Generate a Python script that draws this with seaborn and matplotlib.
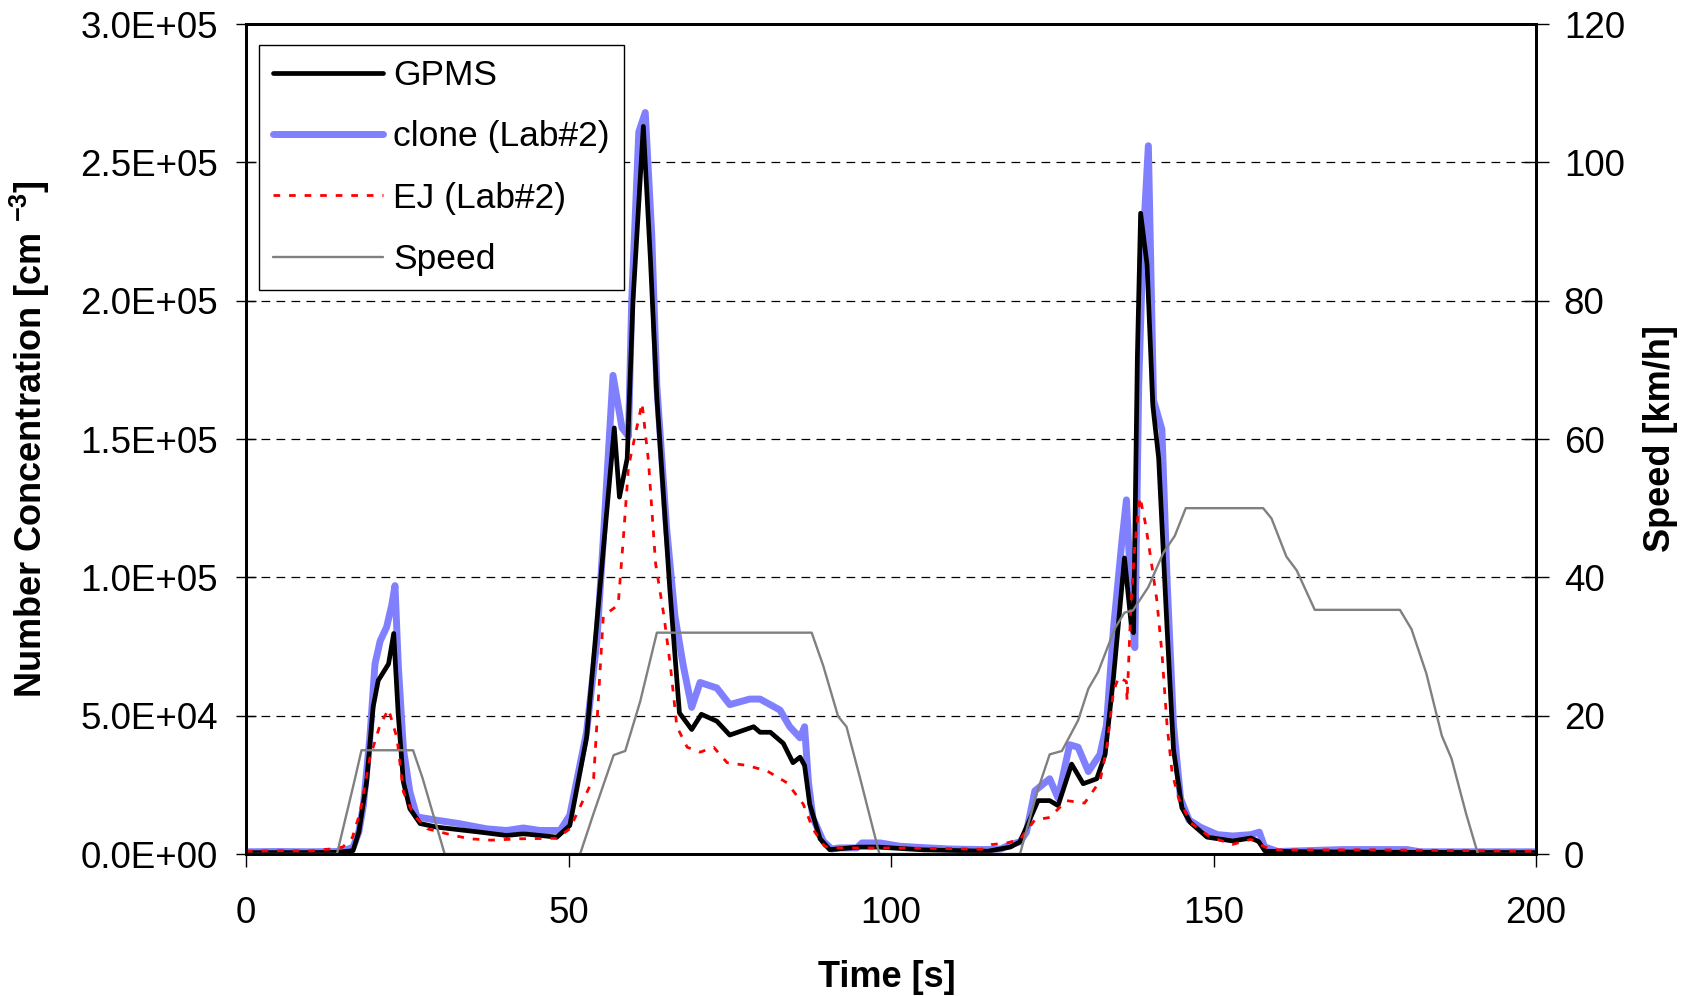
import numpy as np
import pandas as pd
import matplotlib
matplotlib.use('Agg')
import matplotlib.pyplot as plt
from matplotlib.ticker import FuncFormatter, MultipleLocator
from matplotlib.lines import Line2D
import seaborn as sns

# ---------------- data ----------------
clone_t = [0, 5, 10, 14, 15.5, 16.6, 17.5, 18.2, 19.2, 20.0, 20.8, 21.8, 22.6, 23.1, 23.6, 24.4,
           25.4, 26.5, 29.6, 33, 37.3, 40.4, 43.0, 45.6, 48.7, 50.2, 52.8, 54.4, 55.4, 56.9, 58.3,
           59.3, 59.8, 60.9, 61.9, 62.9, 63.7, 65.2, 66.5, 67.8, 69.1, 70.4, 73.0, 75.0, 78.1, 79.7,
           82.8, 84.3, 85.9, 86.6, 87.2, 87.9, 89.5, 90.8, 92, 94.7, 95.5, 98.3, 101.4, 105, 109.2,
           114.4, 117, 118.5, 120.0, 121.0, 122.3, 124.6, 125.9, 127.7, 129.0, 130.6, 132.4, 133.4,
           134.5, 135.8, 136.5, 137.3, 137.8, 138.4, 139.1, 139.9, 140.7, 142.0, 142.8, 143.8, 144.9,
           146.2, 148.0, 150.6, 153, 155.8, 157.1, 157.9, 160, 170, 180, 182, 190, 200]
clone_c = [800, 900, 800, 900, 1500, 2400, 8000, 17600, 42000, 68700, 77000, 82000, 90000, 97000,
           68700, 38000, 22500, 13400, 12200, 11000, 9100, 8500, 9400, 8500, 8500, 14000, 44000,
           77000, 114000, 173000, 154000, 151000, 200000, 261000, 268000, 224000, 169000, 118000,
           86000, 68000, 53000, 62000, 60000, 54000, 56000, 56000, 52000, 46000, 42000, 46000, 26000,
           13000, 4600, 1800, 2200, 2200, 4000, 4000, 2800, 2300, 1800, 1600, 1800, 3400, 4400, 7900,
           22800, 27200, 20200, 39500, 38600, 29800, 36000, 46500, 81600, 113000, 128000, 90000,
           74600, 169000, 222000, 256000, 164000, 153500, 99000, 46500, 20000, 12300, 9650, 7000,
           6500, 7000, 7900, 2600, 900, 1600, 1600, 800, 800, 800]

gpms_t = [0, 10, 14, 16.6, 17.5, 18.7, 19.7, 20.5, 22.1, 22.9, 23.6, 24.4, 25.4, 27.0, 29.6, 36.3,
          40.4, 43.0, 48.2, 50.2, 52.8, 55.4, 57.1, 57.9, 59.1, 60.0, 61.6, 62.7, 63.7, 65.7, 67.2,
          69.1, 70.6, 73.0, 75.0, 78.7, 79.7, 81.3, 83.3, 84.8, 85.9, 86.6, 87.4, 89.0, 90.5, 95, 98,
          105, 115, 118.5, 120.0, 122.8, 124.6, 125.9, 128.0, 129.8, 131.9, 133.2, 134.5, 136.2,
          137.3, 137.6, 138.2, 138.7, 139.7, 140.6, 141.5, 142.8, 143.8, 145.1, 146.4, 149.0, 153,
          155.8, 157.0, 158.0, 165, 180, 200]
gpms_c = [500, 500, 600, 1200, 8000, 26000, 53000, 62700, 68700, 79700, 50500, 26000, 16400, 11000,
          9700, 7900, 6700, 7300, 6100, 10300, 42000, 110000, 154000, 129000, 143000, 200000, 263000,
          215000, 165000, 96000, 51000, 45000, 50500, 48000, 43000, 46000, 44000, 44000, 40000,
          33000, 35000, 32000, 18000, 5500, 1570, 2500, 2500, 1500, 1000, 2500, 4400, 19300, 19300,
          17500, 32500, 25400, 27200, 36000, 64000, 107000, 81600, 80000, 180000, 231600, 213000,
          162000, 143000, 81600, 37700, 16700, 11400, 6100, 4700, 5800, 4500, 1000, 800, 600, 500]

ej_t = [0, 5, 10, 13, 15, 16.5, 17.7, 19.2, 20.8, 22.1, 23.4, 24.4, 26.0, 28.1, 32.2, 34.7, 38,
        42.5, 48.2, 50.2, 53.9, 55.4, 57.7, 58.5, 59.3, 61.4, 62.4, 63.5, 64.8, 65.8, 66.8, 68.4,
        70.4, 72.5, 74.6, 77.7, 80.8, 83.9, 86.4, 87.9, 89.7, 91, 100, 108, 114, 115.6, 118, 120,
        122.3, 124.6, 127.2, 130, 132.4, 133.4, 134.5, 135.3, 136.5, 136.6, 137.2, 137.8, 138.6,
        139.4, 140.1, 141.2, 142.0, 142.8, 143.6, 144.6, 146.4, 149.5, 153, 155.8, 157.9, 160, 175,
        200]
ej_c = [1000, 1200, 1100, 1800, 2500, 6000, 15200, 34700, 46800, 52300, 42000, 22500, 14000, 9100,
        6700, 5500, 5000, 5500, 5700, 9100, 27500, 86000, 90000, 114000, 140000, 163000, 142000,
        105000, 86000, 68000, 46000, 38600, 36800, 38600, 33000, 32000, 30000, 25700, 18000, 9000,
        2800, 2200, 2200, 2000, 1700, 3400, 4000, 5300, 12300, 13200, 19300, 18400, 26300, 37700,
        58800, 64000, 62300, 55300, 90000, 111400, 129000, 120000, 109600, 92000, 72800, 46500,
        29000, 20200, 11400, 6100, 3500, 5300, 2600, 1500, 1500, 1000]

speed_t = [0, 14.1, 16.9, 17.9, 25.9, 27.4, 30.8, 51.8, 53.9, 57.0, 58.8, 61.1, 63.7, 87.7, 89.5,
           91.8, 93.1, 95.2, 98.2, 120.0, 122.6, 124.6, 126.5, 129.0, 130.6, 132.1, 134.7, 136.2,
           137.5, 139.9, 142.2, 144.0, 145.7, 157.7, 159.0, 161.3, 162.9, 165.7, 178.9, 180.7,
           183.0, 185.4, 186.9, 189.2, 191.0, 200]
speed_v = [0, 0, 10.9, 15, 15, 10.9, 0, 0, 5.9, 14.3, 14.9, 22, 32, 32, 27.2, 19.9, 18.4, 11.0, 0,
           0, 8.8, 14.4, 14.9, 19.3, 23.9, 26.3, 32.6, 34.9, 35.2, 38.6, 43.5, 46, 50, 50, 48.5, 43,
           41, 35.3, 35.3, 32.5, 26.1, 17.1, 13.8, 5.7, 0, 0]

series_labels = ["GPMS", "clone (Lab#2)", "EJ (Lab#2)", "Speed"]
x_label = "Time [s]"
y_label = "Number Concentration [cm $^{\\mathbf{-3}}$]"
y2_label = "Speed [km/h]"

# ---------------- styling ----------------
sns.set_theme(style='white')
plt.rcParams['font.family'] = ['Liberation Sans', 'DejaVu Sans']
plt.rcParams['mathtext.fontset'] = 'custom'
plt.rcParams['mathtext.rm'] = 'Liberation Sans'
plt.rcParams['mathtext.bf'] = 'Liberation Sans:bold'
plt.rcParams['text.color'] = 'black'
plt.rcParams['axes.labelcolor'] = 'black'
plt.rcParams['xtick.color'] = 'black'
plt.rcParams['ytick.color'] = 'black'

C_BLUE = '#8080FF'
C_RED = '#FF0000'
C_GRAY = '#808080'
LW_BLUE, LW_BLACK, LW_RED, LW_GRAY = 5.0, 3.4, 2.0, 1.7
RED_DASH = (0, (2.4, 3.2))

fig = plt.figure(figsize=(16.92, 9.96), dpi=100)
ax = fig.add_axes([246 / 1692, 142 / 996, 1290 / 1692, 830 / 996])
ax2 = ax.twinx()

df_clone = pd.DataFrame({'t': clone_t, 'c': clone_c})
df_gpms = pd.DataFrame({'t': gpms_t, 'c': gpms_c})
df_ej = pd.DataFrame({'t': ej_t, 'c': ej_c})
df_speed = pd.DataFrame({'t': speed_t, 'v': speed_v})

sns.lineplot(data=df_clone, x='t', y='c', ax=ax, color=C_BLUE, lw=LW_BLUE,
             estimator=None, sort=False, legend=False, zorder=3)
sns.lineplot(data=df_gpms, x='t', y='c', ax=ax, color='black', lw=LW_BLACK,
             estimator=None, sort=False, legend=False, zorder=4)
sns.lineplot(data=df_ej, x='t', y='c', ax=ax, color=C_RED, lw=LW_RED,
             estimator=None, sort=False, legend=False, zorder=5)
ax.lines[-1].set_linestyle(RED_DASH)
sns.lineplot(data=df_speed, x='t', y='v', ax=ax2, color=C_GRAY, lw=LW_GRAY,
             estimator=None, sort=False, legend=False)

ax.set_xlim(0, 200)
ax.set_ylim(0, 3e5)
ax2.set_ylim(0, 120)
ax.xaxis.set_major_locator(MultipleLocator(50))
ax.yaxis.set_major_locator(MultipleLocator(5e4))
ax2.yaxis.set_major_locator(MultipleLocator(20))
ax.yaxis.set_major_formatter(FuncFormatter(lambda v, p: format(v, '.1E')))

ax.grid(axis='y', color='black', lw=0.9, ls=(0, (7, 5)))
ax.grid(axis='x', visible=False)
ax2.grid(False)

for a in (ax, ax2):
    for s in a.spines.values():
        s.set_color('black')
        s.set_linewidth(2.0)

ax.tick_params(axis='x', bottom=True, direction='out', length=9.5, width=1, pad=21, labelsize=26.5)
ax.tick_params(axis='y', left=True, direction='inout', length=14.5, width=1, pad=13, labelsize=26.5)
ax2.tick_params(axis='y', right=True, direction='inout', length=18, width=1, pad=11, labelsize=26.5)

ax.set_xlabel(x_label, fontsize=26, fontweight='bold')
ax.set_ylabel(y_label, fontsize=26, fontweight='bold')
ax2.set_ylabel(y2_label, fontsize=26, fontweight='bold', rotation=90)
ax.xaxis.set_label_coords(0.497, -0.128)
ax.yaxis.set_label_coords(-0.150, 0.5)
ax2.yaxis.set_label_coords(1.083, 0.5)

handles = [Line2D([], [], color='black', lw=LW_BLACK),
           Line2D([], [], color=C_BLUE, lw=LW_BLUE),
           Line2D([], [], color=C_RED, lw=LW_RED, ls=RED_DASH),
           Line2D([], [], color=C_GRAY, lw=LW_GRAY)]
leg = ax2.legend(handles, series_labels, loc='upper left', bbox_to_anchor=(0.010, 0.975),
                 borderaxespad=0, frameon=True, fancybox=False, shadow=False,
                 edgecolor='black', facecolor='white', framealpha=1, fontsize=25.5,
                 handlelength=3.1, handletextpad=0.3, labelspacing=0.80, borderpad=0.40)
leg.get_frame().set_linewidth(1.0)

fig.savefig('out.png', dpi=100)
